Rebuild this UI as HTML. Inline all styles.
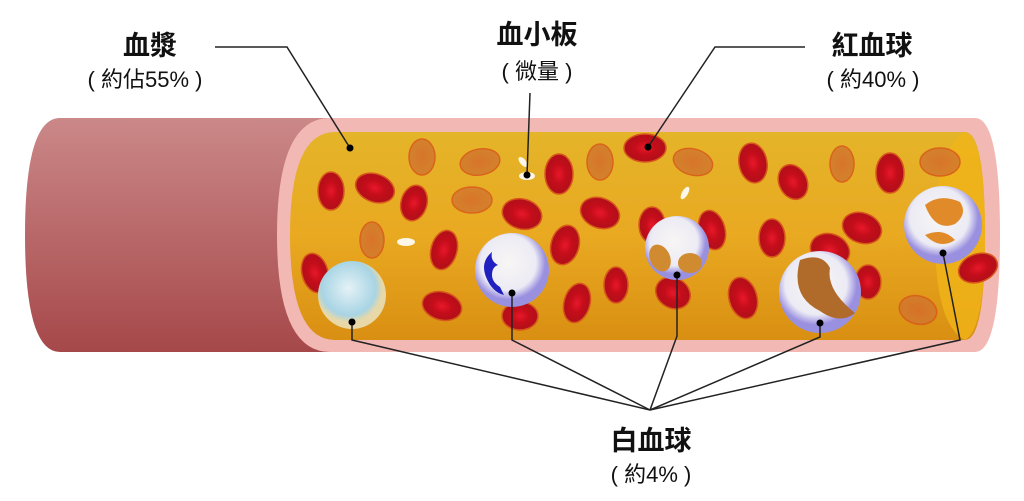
<!DOCTYPE html>
<html><head><meta charset="utf-8"><style>
body{margin:0;background:#fff;width:1024px;height:496px;overflow:hidden}
text{font-family:"Liberation Sans","Noto Sans CJK TC",sans-serif;fill:#111}
</style></head><body>
<svg width="1024" height="496" viewBox="0 0 1024 496" xmlns="http://www.w3.org/2000/svg">
<defs>
<linearGradient id="red" x1="0" y1="0" x2="0" y2="1"><stop offset="0" stop-color="#cb8888"/><stop offset="1" stop-color="#a6484a"/></linearGradient>
<linearGradient id="yel" x1="0" y1="0" x2="0" y2="1"><stop offset="0" stop-color="#e4b429"/><stop offset="0.5" stop-color="#e9a921"/><stop offset="1" stop-color="#d98f12"/></linearGradient>
<radialGradient id="rbc"><stop offset="0" stop-color="#e8182a"/><stop offset="0.5" stop-color="#c40d1a"/><stop offset="1" stop-color="#b0101a"/></radialGradient>
<radialGradient id="rbcf"><stop offset="0" stop-color="#d66a2a"/><stop offset="1" stop-color="#cf7a30"/></radialGradient>
<radialGradient id="wc1" cx="0.45" cy="0.4"><stop offset="0" stop-color="#e4f2f6"/><stop offset="0.8" stop-color="#a8d4e4"/><stop offset="1" stop-color="#e8d8a8"/></radialGradient>
<radialGradient id="wc2" cx="0.45" cy="0.4"><stop offset="0" stop-color="#f8f6f4"/><stop offset="0.75" stop-color="#ecebf4"/><stop offset="1" stop-color="#9a90e0"/></radialGradient>
</defs>
<!-- outer tube -->
<path d="M60 118 H330 V352 H60 Q25 352 25 235 Q25 118 60 118Z" fill="url(#red)"/>
<!-- pink wall -->
<path d="M330 118 H975 Q1000 118 1000 235 Q1000 352 975 352 H330 Q277 352 277 235 Q277 118 330 118Z" fill="#f2b8b4"/>
<path d="M335 132 H965 Q985 132 985 235 Q985 340 965 340 H335 Q290 340 290 235 Q290 132 335 132Z" fill="url(#yel)"/>
<path d="M965 132 Q935 150 935 235 Q935 325 965 340 Q985 330 985 235 Q985 140 965 132Z" fill="#f0b418" opacity="0.8"/>
<g stroke="#d8561a" stroke-width="1.5">
<g fill="url(#rbcf)" opacity="0.85">
<ellipse cx="422" cy="157" rx="13" ry="18"/><ellipse cx="480" cy="162" rx="20" ry="13" transform="rotate(-10 480 162)"/>
<ellipse cx="472" cy="200" rx="20" ry="13"/><ellipse cx="372" cy="240" rx="12" ry="18"/>
<ellipse cx="600" cy="162" rx="13" ry="18"/><ellipse cx="693" cy="162" rx="20" ry="13" transform="rotate(15 693 162)"/>
<ellipse cx="842" cy="164" rx="12" ry="18"/><ellipse cx="940" cy="162" rx="20" ry="14"/>
<ellipse cx="918" cy="310" rx="19" ry="14" transform="rotate(15 918 310)"/>
</g>
<g fill="url(#rbc)">
<ellipse cx="331" cy="191" rx="13" ry="19"/><ellipse cx="375" cy="188" rx="20" ry="14" transform="rotate(20 375 188)"/>
<ellipse cx="414" cy="203" rx="13" ry="18" transform="rotate(15 414 203)"/><ellipse cx="444" cy="250" rx="13" ry="20" transform="rotate(15 444 250)"/>
<ellipse cx="442" cy="306" rx="20" ry="14" transform="rotate(15 442 306)"/><ellipse cx="315" cy="273" rx="13" ry="20" transform="rotate(-15 315 273)"/>
<ellipse cx="522" cy="214" rx="20" ry="15" transform="rotate(15 522 214)"/><ellipse cx="559" cy="174" rx="14" ry="20"/>
<ellipse cx="645" cy="148" rx="21" ry="14"/><ellipse cx="753" cy="163" rx="14" ry="20" transform="rotate(-10 753 163)"/>
<ellipse cx="793" cy="182" rx="14" ry="18" transform="rotate(-25 793 182)"/><ellipse cx="890" cy="173" rx="14" ry="20"/>
<ellipse cx="600" cy="213" rx="20" ry="15" transform="rotate(20 600 213)"/><ellipse cx="565" cy="245" rx="14" ry="20" transform="rotate(15 565 245)"/>
<ellipse cx="652" cy="225" rx="13" ry="18"/><ellipse cx="712" cy="230" rx="13" ry="20" transform="rotate(-15 712 230)"/>
<ellipse cx="772" cy="238" rx="13" ry="19"/><ellipse cx="862" cy="228" rx="20" ry="15" transform="rotate(20 862 228)"/>
<ellipse cx="830" cy="250" rx="20" ry="16" transform="rotate(20 830 250)"/><ellipse cx="978" cy="268" rx="20" ry="14" transform="rotate(-20 978 268)"/>
<ellipse cx="577" cy="303" rx="13" ry="20" transform="rotate(15 577 303)"/><ellipse cx="616" cy="285" rx="12" ry="18"/>
<ellipse cx="673" cy="293" rx="18" ry="15" transform="rotate(30 673 293)"/><ellipse cx="743" cy="298" rx="14" ry="21" transform="rotate(-15 743 298)"/>
<ellipse cx="520" cy="316" rx="18" ry="14"/><ellipse cx="868" cy="282" rx="13" ry="17"/>
</g></g>
<!-- platelets -->
<g fill="#fff" opacity="0.9"><ellipse cx="406" cy="242" rx="9" ry="4"/><ellipse cx="523" cy="162" rx="3" ry="6" transform="rotate(-40 523 162)"/><ellipse cx="527" cy="176" rx="8" ry="4"/><ellipse cx="685" cy="193" rx="3" ry="7" transform="rotate(30 685 193)"/></g>
<!-- white cells -->
<circle cx="352" cy="295" r="34" fill="url(#wc1)"/>
<circle cx="512" cy="270" r="37" fill="url(#wc2)"/>
<path d="M492 252 q-12 10 -6 25 q6 15 18 18 l-4 -8 q-8 -5 -8 -12 q0 -8 6 -10 q-8 -4 -6 -13z" fill="#2020c0"/>
<circle cx="677" cy="248" r="32" fill="url(#wc2)"/>
<ellipse cx="660" cy="258" rx="10" ry="14" fill="#d08a30" transform="rotate(-25 660 258)"/><ellipse cx="690" cy="263" rx="12" ry="10" fill="#d08a30"/>
<circle cx="820" cy="292" r="41" fill="url(#wc2)"/>
<path d="M800 260 q22 -8 30 8 q-4 22 25 45 q-15 12 -35 -2 q-30 -15 -20 -51z" fill="#b06a2a"/>
<circle cx="943" cy="225" r="39" fill="url(#wc2)"/>
<path d="M925 205 q15 -12 35 -3 q8 12 -5 22 q-20 8 -30 -19z M925 235 q18 -8 30 5 q-15 10 -30 -5z" fill="#e08a2a"/>
<!-- leader lines -->
<g stroke="#222" stroke-width="1.5" fill="none">
<polyline points="215,47 287,47 350,148"/>
<polyline points="530,93 527,175"/>
<polyline points="805,47 715,47 648,147"/>
<polyline points="352,322 352,340 650,410"/>
<polyline points="512,293 512,340 650,410"/>
<polyline points="677,275 677,336 650,410"/>
<polyline points="820,323 820,337 650,410"/>
<polyline points="943,253 960,340 650,410"/>
</g>
<g fill="#000"><circle cx="350" cy="148" r="3.5"/><circle cx="527" cy="175" r="3.5"/><circle cx="648" cy="147" r="3.5"/><circle cx="352" cy="322" r="3.5"/><circle cx="512" cy="293" r="3.5"/><circle cx="677" cy="275" r="3.5"/><circle cx="820" cy="323" r="3.5"/><circle cx="943" cy="253" r="3.5"/></g>
<!-- labels -->
<g text-anchor="middle" font-weight="bold">
<text x="150" y="55" font-size="27">血漿</text>
<text x="145" y="87" font-size="22" font-weight="normal">( 約佔55% )</text>
<text x="537" y="44" font-size="27">血小板</text>
<text x="537" y="79" font-size="22" font-weight="normal">( 微量 )</text>
<text x="872" y="55" font-size="27">紅血球</text>
<text x="873" y="87" font-size="22" font-weight="normal">( 約40% )</text>
<text x="651" y="450" font-size="27">白血球</text>
<text x="651" y="482" font-size="22" font-weight="normal">( 約4% )</text>
</g>
</svg>
</body></html>
